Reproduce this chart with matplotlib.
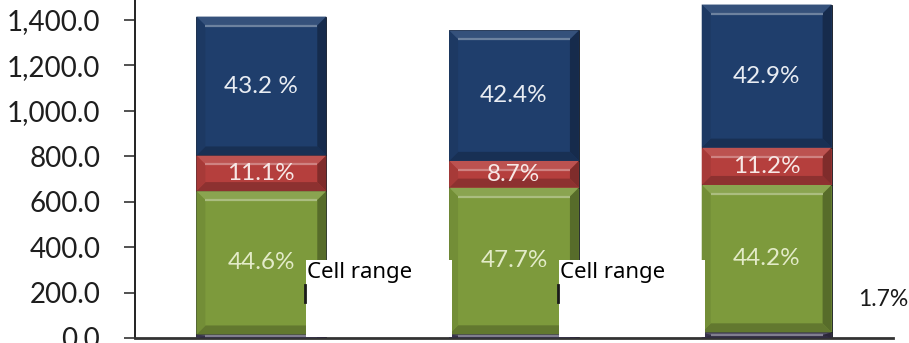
import numpy as np
import matplotlib.pyplot as plt
from matplotlib.patches import Polygon, Rectangle
from matplotlib.colors import to_rgb

# bar totals and the share of each stacked part (%)
totals = [1415.0, 1354.0, 1468.0]
pct_other = [1.1, 1.2, 1.7]
pct_green = [44.6, 47.7, 44.2]
pct_red = [11.1, 8.7, 11.2]
pct_blue = [43.2, 42.4, 42.9]

green_labels = ["44.6%", "47.7%", "44.2%"]
red_labels = ["11.1%", "8.7%", "11.2%"]
blue_labels = ["43.2 %", "42.4%", "42.9%"]
other_labels = ["Cell range", "Cell range", "1.7%"]

yticks = [0, 200, 400, 600, 800, 1000, 1200, 1400]

c_other = "#3d3852"
c_green = "#7d9a3c"
c_red = "#b53f3d"
c_blue = "#1f3e6c"

W, H = 909, 343
fig = plt.figure(figsize=(W / 100, H / 100), dpi=100)
ax_l, ax_r, ax_b = 135, 893, 5
ax = fig.add_axes([ax_l / W, ax_b / H, (ax_r - ax_l) / W, (H - ax_b) / H])
ax.set_xlim(-0.5, 2.5)
ax.set_ylim(0, 1488)

# data units per pixel
sx = 3.0 / (ax_r - ax_l)
sy = 1488 / (H - ax_b)


def shade(c, f):
    c = np.array(to_rgb(c))
    if f >= 0:
        return tuple(c + (1 - c) * f)
    return tuple(c * (1 + f))


def bevel(x0, y0, w, h, color, b=9):
    bx = b * sx
    by = min(b, h / sy / 2) * sy
    o = [(x0, y0), (x0 + w, y0), (x0 + w, y0 + h), (x0, y0 + h)]
    i = [(x0 + bx, y0 + by), (x0 + w - bx, y0 + by),
         (x0 + w - bx, y0 + h - by), (x0 + bx, y0 + h - by)]
    faces = [
        ([o[3], o[2], i[2], i[3]], shade(color, 0.1)),
        ([o[0], o[1], i[1], i[0]], shade(color, -0.22)),
        ([o[0], o[3], i[3], i[0]], shade(color, -0.08)),
        ([o[1], o[2], i[2], i[1]], shade(color, -0.3)),
    ]
    for pts, fc in faces:
        ax.add_patch(Polygon(pts, closed=True, facecolor=fc, edgecolor="none", zorder=3))
    # highlight along the inner top edge
    ax.plot([i[3][0], i[2][0]], [i[3][1], i[2][1]], color=shade(color, 0.35),
            lw=1.6, zorder=4, solid_capstyle="butt")


x = np.arange(len(totals))
width = 0.514
t = np.array(totals)
v_other = t * np.array(pct_other) / 100
v_green = t * np.array(pct_green) / 100
v_red = t * np.array(pct_red) / 100
v_blue = t * np.array(pct_blue) / 100

bottom = np.zeros(len(t))
parts = [(v_other, c_other), (v_green, c_green), (v_red, c_red), (v_blue, c_blue)]
bottoms = []
for vals, col in parts:
    bars = ax.bar(x, vals, width, bottom=bottom, color=col, edgecolor="#10141c",
                  linewidth=0.6, zorder=2)
    for r in bars:
        bevel(r.get_x(), r.get_y(), r.get_width(), r.get_height(), col)
    bottoms.append(bottom.copy())
    bottom = bottom + vals

lab_font = dict(family="Lato", fontsize=17.5, ha="center", va="center", zorder=6)
for k in range(len(t)):
    ax.text(x[k], bottoms[1][k] + v_green[k] / 2, green_labels[k], color="#e3ebc8", **lab_font)
    ax.text(x[k], bottoms[2][k] + v_red[k] / 2, red_labels[k], color="#f7e8e6", **lab_font)
    ax.text(x[k], bottoms[3][k] + v_blue[k] / 2, blue_labels[k], color="#e9edf3", **lab_font)

# labels of the thin bottom part, placed to the right of each bar
for k in range(len(t)):
    right = x[k] + width / 2
    if other_labels[k] == "Cell range":
        bx0 = right - 20 * sx
        ax.add_patch(Rectangle((bx0, 1 * sy), 146 * sx, 77 * sy, facecolor="white",
                               edgecolor="none", zorder=7))
        ax.plot([bx0 - 1 * sx] * 2, [36 * sy, 53 * sy], color="#1a1a1a", lw=2, zorder=7)
        ax.text(bx0 + 1 * sx, 76 * sy, other_labels[k], family="Noto Sans", fontsize=16,
                color="black", ha="left", va="top", zorder=8)
    else:
        ax.text(right + 27 * sx, 38 * sy, other_labels[k], family="Lato", fontsize=16.5,
                color="#1a1a1a", ha="left", va="center", zorder=8, clip_on=False)

ax.set_yticks(yticks)
ax.set_yticklabels(["{:,.1f}".format(v) for v in yticks], family="Lato", fontsize=20,
                   color="#1e1e1e")
ax.tick_params(axis="y", length=8, width=1.2, pad=17, color="#333333")
ax.set_xticks([])
for s in ["top", "right"]:
    ax.spines[s].set_visible(False)
ax.spines["left"].set_color("#222222")
ax.spines["left"].set_linewidth(1.4)
ax.spines["bottom"].set_color("#333333")
ax.spines["bottom"].set_linewidth(2)

fig.savefig("out.png", dpi=100)
